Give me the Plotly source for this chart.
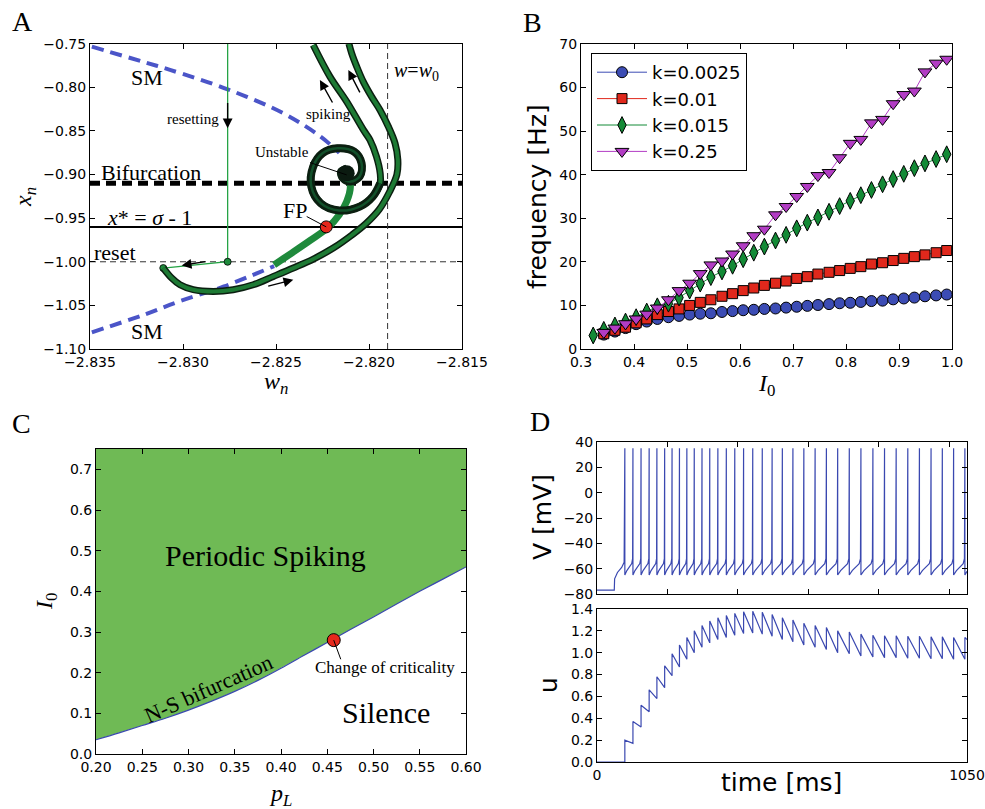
import plotly.graph_objects as go

W, H = 985, 809

# ---------------- Panel A data (w_n, x_n) ----------------
SM_UP_W = [-2.8349, -2.8321, -2.8307, -2.8276, -2.8246, -2.8226, -2.8216]
SM_UP_X = [-0.7534, -0.7710, -0.7800, -0.8023, -0.8298, -0.8565, -0.8752]
SM_LO_W = [-2.8349, -2.8321, -2.8302, -2.8278, -2.8251]
SM_LO_X = [-1.0809, -1.0607, -1.0454, -1.0283, -1.0050]
STAB_W = [-2.8251, -2.8243, -2.8232, -2.8222, -2.8216, -2.8212, -2.8210, -2.8211]
STAB_X = [-1.0035, -0.9920, -0.9760, -0.9607, -0.9462, -0.9309, -0.9138, -0.9030]
OUT_W = [-2.83106, -2.83061, -2.83016, -2.82945, -2.82837, -2.82730, -2.82622, -2.82514,
         -2.82407, -2.82299, -2.82190, -2.82090, -2.82015, -2.81945, -2.81890, -2.81850,
         -2.81845, -2.81860, -2.81896, -2.81941, -2.81986, -2.82031, -2.82066, -2.82093, -2.82108]
OUT_X = [-1.0072, -1.0186, -1.0263, -1.0320, -1.0340, -1.0320, -1.0263, -1.0168,
         -1.0072, -0.9969, -0.9840, -0.9690, -0.9560, -0.9400, -0.9200, -0.9000,
         -0.8830, -0.8641, -0.8450, -0.8260, -0.8107, -0.7935, -0.7763, -0.7611, -0.7500]
SP_W = [-2.8212, -2.8215, -2.8214, -2.8210, -2.8205, -2.8204, -2.8208, -2.8217, -2.8225,
        -2.8230, -2.8231, -2.8226, -2.8216, -2.8205, -2.8198, -2.8194, -2.8194, -2.8196,
        -2.81995, -2.8203, -2.8212, -2.8221, -2.8230]
SP_X = [-0.8930, -0.8966, -0.9042, -0.9080, -0.9023, -0.8870, -0.8737, -0.8699, -0.8756,
        -0.8909, -0.9138, -0.9328, -0.9412, -0.9367, -0.9252, -0.9100, -0.8985, -0.8794,
        -0.8603, -0.8489, -0.8164, -0.7878, -0.7515]
SPIRAL_LEN = 16
RESET_W = [-2.8276, -2.8276, -2.83106]
RESET_X = [-0.7500, -1.0000, -1.0072]
UNSTABLE = (-2.8212, -0.8985)
FP = (-2.8223, -0.9600)
BIFURCATION_X = -0.91
XSTAR = -0.96
RESET_LEVEL = -1.0
W0 = -2.819

# ---------------- Panel B data ----------------
I0 = [0.323, 0.343, 0.364, 0.384, 0.404, 0.424, 0.444, 0.465, 0.485, 0.505, 0.525, 0.545,
      0.566, 0.586, 0.606, 0.626, 0.646, 0.667, 0.687, 0.707, 0.727, 0.747, 0.768, 0.788,
      0.808, 0.828, 0.848, 0.869, 0.889, 0.909, 0.929, 0.949, 0.970, 0.990]
F_0025 = [3.3, 4.0, 4.8, 5.7, 6.3, 6.9, 7.3, 7.6, 7.9, 8.1, 8.2, 8.5, 8.7, 8.9, 9.0, 9.2,
          9.3, 9.5, 9.7, 9.9, 10.1, 10.3, 10.5, 10.6, 10.8, 11.0, 11.1, 11.4, 11.6, 11.8,
          12.1, 12.3, 12.5]
F_01 = [3.5, 4.3, 5.0, 6.0, 6.9, 7.9, 8.6, 9.2, 10.0, 10.7, 11.3, 12.1, 12.7, 13.4, 14.0,
        14.6, 15.1, 15.6, 16.2, 16.6, 17.2, 17.6, 18.0, 18.5, 18.9, 19.5, 19.8, 20.3, 20.8,
        21.2, 21.6, 22.1, 22.6]
F_015 = [3.1, 4.4, 5.4, 6.3, 7.3, 8.6, 9.8, 10.4, 11.8, 13.4, 15.0, 16.5, 17.8, 19.1, 20.6,
         22.1, 23.5, 24.9, 26.2, 27.7, 29.0, 30.2, 31.5, 32.8, 34.0, 35.3, 36.5, 37.8, 39.0,
         40.2, 41.5, 42.6, 43.6, 44.7]
F_25 = [3.8, 4.8, 5.8, 6.9, 8.0, 9.4, 11.3, 13.4, 15.1, 17.3, 19.3, 20.2, 21.8, 23.7, 26.0,
        27.5, 30.8, 32.7, 35.0, 37.3, 39.8, 40.5, 43.9, 47.2, 48.1, 51.9, 52.7, 56.3, 58.4,
        59.2, 63.6, 65.6, 66.5]

# ---------------- Panel C data ----------------
PL = [0.200, 0.225, 0.250, 0.275, 0.300, 0.325, 0.350, 0.375, 0.400, 0.425, 0.450, 0.475,
      0.500, 0.525, 0.550, 0.575, 0.600]
I_NS = [0.035, 0.052, 0.070, 0.088, 0.108, 0.130, 0.154, 0.181, 0.211, 0.243, 0.274, 0.306,
        0.337, 0.369, 0.400, 0.430, 0.460]
CRIT = (0.457, 0.280)
C_YMAX = 0.75

# ---------------- Panel D data ----------------
SPIKE_T = [79, 102, 125, 148, 170, 192, 213, 234, 255, 276, 298, 320, 343, 367, 391, 416,
           442, 469, 497, 526, 556, 587, 619, 651, 683, 716, 749, 783, 816, 849, 882, 915,
           948, 980, 1012, 1044]
U_PEAK = [0.20, 0.37, 0.52, 0.66, 0.78, 0.88, 0.99, 1.07, 1.14, 1.20, 1.25, 1.29, 1.32, 1.34,
          1.36, 1.375, 1.38, 1.37, 1.35, 1.32, 1.30, 1.27, 1.25, 1.23, 1.20, 1.19, 1.17, 1.16,
          1.155, 1.155, 1.15, 1.15, 1.145, 1.145, 1.14, 1.14]
U_TROUGH = [0.17, 0.32, 0.46, 0.58, 0.68, 0.79, 0.87, 0.94, 1.00, 1.05, 1.09, 1.12, 1.14, 1.16,
            1.175, 1.18, 1.17, 1.15, 1.12, 1.10, 1.07, 1.05, 1.03, 1.00, 0.99, 0.97, 0.96,
            0.955, 0.955, 0.95, 0.95, 0.945, 0.945, 0.94, 0.94, 1.12]
V_REST, V_RESET, V_PEAK = -77, -65, 35
PRE_T = [49, 50, 58, 70, 77]
PRE_V = [-77, -68, -63, -59, -55]
ISI_FRAC = [0.0, 0.25, 0.55, 0.85, 0.96]
ISI_V = [-65, -61.5, -58.5, -56, -52]
T_END = 1050

# ---------------- helpers ----------------
def dx(l, r):
    return [l / W, r / W]

def dy(t, b):
    return [1 - b / H, 1 - t / H]

def px(x):
    return x / W

def py(y):
    return 1 - y / H

fig = go.Figure()

GREEN = '#1f8a3c'
CHAIN_IN = '#1d7a34'
DKGREEN = '#12502a'
BLUE_SM = '#4b55c8'

# ---- Panel A ----
fig.add_trace(go.Scatter(x=SM_UP_W, y=SM_UP_X, mode='lines', line=dict(color=BLUE_SM, width=4, dash='12px,7px', shape='spline'), xaxis='x', yaxis='y', showlegend=False))
fig.add_trace(go.Scatter(x=SM_LO_W, y=SM_LO_X, mode='lines', line=dict(color=BLUE_SM, width=4, dash='12px,7px', shape='spline'), xaxis='x', yaxis='y', showlegend=False))
fig.add_trace(go.Scatter(x=STAB_W, y=STAB_X, mode='lines', line=dict(color=GREEN, width=7, shape='spline'), xaxis='x', yaxis='y', showlegend=False))
fig.add_trace(go.Scatter(x=RESET_W, y=RESET_X, mode='lines', line=dict(color='#25a345', width=1.3), xaxis='x', yaxis='y', showlegend=False))
fig.add_trace(go.Scatter(x=RESET_W[1:], y=RESET_X[1:], mode='markers', marker=dict(color=GREEN, size=7, line=dict(color='black', width=0.8)), xaxis='x', yaxis='y', showlegend=False))

def chain(wl, xl, outer=7, inner=4, col=CHAIN_IN):
    fig.add_trace(go.Scatter(x=wl, y=xl, mode='lines', line=dict(color='#0b1f10', width=outer, shape='spline'), xaxis='x', yaxis='y', showlegend=False))
    fig.add_trace(go.Scatter(x=wl, y=xl, mode='lines', line=dict(color=col, width=inner, shape='spline'), xaxis='x', yaxis='y', showlegend=False))

chain(OUT_W, OUT_X)
chain(SP_W, SP_X)
chain(SP_W[:SPIRAL_LEN], SP_X[:SPIRAL_LEN], outer=8, inner=2.5, col=DKGREEN)
fig.add_trace(go.Scatter(x=[UNSTABLE[0]], y=[UNSTABLE[1]], mode='markers', marker=dict(color='#0b1a10', size=16), xaxis='x', yaxis='y', showlegend=False))
fig.add_trace(go.Scatter(x=[FP[0]], y=[FP[1]], mode='markers', marker=dict(color='#e5281c', size=12, line=dict(color='black', width=1)), xaxis='x', yaxis='y', showlegend=False))

# ---- Panel B ----
B_SERIES = [
    ('k=0.0025', I0[1:], F_0025, '#3c4cb4', 'circle', 11),
    ('k=0.01', I0[1:], F_01, '#e0281c', 'square', 10),
    ('k=0.015', I0, F_015, '#138a36', 'diamond-tall', 12),
    ('k=0.25', I0[1:], F_25, '#b23cc4', 'triangle-down', 12),
]
for name, xs, ys, col, sym, sz in B_SERIES:
    fig.add_trace(go.Scatter(x=xs, y=ys, mode='lines+markers', name=name,
                             line=dict(color=col, width=1),
                             marker=dict(symbol=sym, size=sz, color=col, line=dict(color='black', width=1)),
                             xaxis='x2', yaxis='y2', showlegend=True))

# ---- Panel C ----
fig.add_trace(go.Scatter(x=PL + [PL[-1], PL[0]], y=I_NS + [C_YMAX, C_YMAX], mode='lines', fill='toself',
                         fillcolor='#6fba55', line=dict(width=0), xaxis='x3', yaxis='y3', showlegend=False))
fig.add_trace(go.Scatter(x=PL, y=I_NS, mode='lines', line=dict(color='#3a48b0', width=1.2, shape='spline'),
                         xaxis='x3', yaxis='y3', showlegend=False))
fig.add_trace(go.Scatter(x=[CRIT[0]], y=[CRIT[1]], mode='markers', marker=dict(color='#e5281c', size=13, line=dict(color='black', width=1)),
                         xaxis='x3', yaxis='y3', showlegend=False))

# ---- Panel D ----
vt, vv = [0] + PRE_T, [V_REST] + PRE_V
for i, t in enumerate(SPIKE_T):
    vt += [t, t]
    vv += [V_PEAK, V_RESET]
    if i + 1 < len(SPIKE_T):
        isi = SPIKE_T[i + 1] - t
        for f, v in zip(ISI_FRAC[1:], ISI_V[1:]):
            vt.append(t + f * isi)
            vv.append(v)
vt.append(T_END)
vv.append(-62)
fig.add_trace(go.Scatter(x=vt, y=vv, mode='lines', line=dict(color='#3a48b0', width=1.2), xaxis='x4', yaxis='y4', showlegend=False))

ut, uv = [0, SPIKE_T[0]], [0, 0]
for i, t in enumerate(SPIKE_T):
    ut.append(t)
    uv.append(U_PEAK[i])
    nxt = SPIKE_T[i + 1] if i + 1 < len(SPIKE_T) else T_END
    ut.append(nxt)
    uv.append(U_TROUGH[i])
fig.add_trace(go.Scatter(x=ut, y=uv, mode='lines', line=dict(color='#3a48b0', width=1.2), xaxis='x5', yaxis='y5', showlegend=False))

# ---------------- axes ----------------
TF = dict(family='DejaVu Sans', size=14, color='black')
BASE = dict(showline=True, linecolor='black', linewidth=1, mirror='allticks', ticks='inside', ticklen=5,
            tickcolor='black', tickwidth=1, showgrid=False, zeroline=False, tickfont=TF, automargin=False)

fig.update_layout(
    template='none',
    width=W, height=H, margin=dict(l=0, r=0, t=0, b=0, pad=0, autoexpand=False),
    paper_bgcolor='white', plot_bgcolor='white',
    font=dict(family='DejaVu Sans', color='black'),
    xaxis=dict(BASE, domain=dx(90, 462), range=[-2.835, -2.815], dtick=0.005, tick0=-2.835, tickformat='.3f', anchor='y'),
    yaxis=dict(BASE, domain=dy(43.7, 349), range=[-1.10, -0.75], dtick=0.05, tick0=-1.1, tickformat='.2f', anchor='x'),
    xaxis2=dict(BASE, domain=dx(581, 952), range=[0.3, 1.0], dtick=0.1, tick0=0.3, tickformat='.1f', anchor='y2'),
    yaxis2=dict(BASE, domain=dy(44, 349), range=[0, 70], dtick=10, anchor='x2'),
    xaxis3=dict(BASE, domain=dx(96, 466), range=[0.2, 0.6], dtick=0.05, tick0=0.2, tickformat='.2f', anchor='y3'),
    yaxis3=dict(BASE, domain=dy(449, 754), range=[0, C_YMAX], dtick=0.1, tick0=0, tickformat='.1f', anchor='x3'),
    xaxis4=dict(BASE, domain=dx(597, 967), range=[0, T_END], tickvals=[200, 400, 600, 800, 1000], showticklabels=False, anchor='y4'),
    yaxis4=dict(BASE, domain=dy(442, 594), range=[-80, 40], dtick=20, anchor='x4'),
    xaxis5=dict(BASE, domain=dx(597, 967), range=[0, T_END], tickvals=[0, T_END], ticktext=['0', '1050'], ticks='', anchor='y5'),
    yaxis5=dict(BASE, domain=dy(609, 762), range=[0, 1.4], dtick=0.2, tick0=0, tickformat='.1f', anchor='x5'),
    legend=dict(x=px(591), y=py(53), xanchor='left', yanchor='top', bordercolor='black', borderwidth=1,
                bgcolor='white', font=dict(family='DejaVu Sans', size=18, color='black'), itemwidth=50,
                tracegroupgap=0),
)

# ---------------- shapes ----------------
shapes = [
    dict(type='line', xref='x domain', yref='y', x0=0, x1=1, y0=BIFURCATION_X, y1=BIFURCATION_X, line=dict(color='black', width=5, dash='10px,6px'), layer='below'),
    dict(type='line', xref='x domain', yref='y', x0=0, x1=1, y0=XSTAR, y1=XSTAR, line=dict(color='black', width=2), layer='below'),
    dict(type='line', xref='x domain', yref='y', x0=0, x1=1, y0=RESET_LEVEL, y1=RESET_LEVEL, line=dict(color='#333', width=1, dash='6px,4px'), layer='below'),
    dict(type='line', xref='x', yref='y domain', x0=W0, x1=W0, y0=0, y1=1, line=dict(color='#333', width=1, dash='6px,4px'), layer='below'),
    dict(type='line', xref='x', yref='y', x0=-2.82317, y0=-0.8863, x1=UNSTABLE[0], y1=-0.9004, line=dict(color='black', width=1)),
    dict(type='line', xref='x', yref='y', x0=-2.82335, y0=-0.9481, x1=FP[0], y1=FP[1], line=dict(color='black', width=1)),
    dict(type='line', xref='x3', yref='y3', x0=CRIT[0], y0=CRIT[1], x1=0.4646, y1=0.233, line=dict(color='black', width=1)),
]
fig.update_layout(shapes=shapes)

# ---------------- annotations ----------------
SERIF = 'Liberation Serif'
ann = []

def txt(x, y, s, size, xref='paper', yref='paper', family=SERIF, angle=0, xanchor='center'):
    ann.append(dict(x=x, y=y, xref=xref, yref=yref, text=s, showarrow=False, textangle=angle,
                    font=dict(family=family, size=size, color='black'), xanchor=xanchor, yanchor='middle'))

def arrow(hx, hy, tx, ty, xr='x', yr='y'):
    ann.append(dict(x=hx, y=hy, ax=tx, ay=ty, xref=xr, yref=yr, axref=xr, ayref=yr, text='', showarrow=True,
                    arrowhead=2, arrowsize=1.4, arrowwidth=1.4, arrowcolor='black', standoff=0))

# panel letters
txt(px(22), py(22), 'A', 28)
txt(px(532), py(23), 'B', 28)
txt(px(21), py(423), 'C', 28)
txt(px(540), py(421), 'D', 28)

# panel A texts
txt(-2.83195, -0.7886, 'SM', 22, 'x', 'y')
txt(-2.83195, -1.0798, 'SM', 22, 'x', 'y')
txt(-2.82944, -0.8363, 'resetting', 15, 'x', 'y')
txt(-2.8222, -0.8305, 'spiking', 15, 'x', 'y')
txt(-2.8247, -0.8737, 'Unstable', 15, 'x', 'y')
txt(-2.83174, -0.8973, 'Bifurcation', 22, 'x', 'y')
txt(-2.83181, -0.9489, '<i>x</i>* = <i>σ</i> - 1', 22, 'x', 'y')
txt(-2.83366, -0.9889, 'reset', 22, 'x', 'y')
txt(-2.8240, -0.9412, 'FP', 22, 'x', 'y')
txt(-2.81747, -0.7813, '<i>w</i>=<i>w</i><sub>0</sub>', 20, 'x', 'y')
arrow(-2.8276, -0.847, -2.8276, -0.8164)
arrow(-2.83007, -1.0042, -2.82873, -0.9996)
arrow(-2.82407, -1.0206, -2.82550, -1.0283)
arrow(-2.82264, -0.7916, -2.82192, -0.8191)
arrow(-2.82111, -0.7802, -2.82045, -0.8076)

# axis titles
txt(px(276), py(383), '<i>w</i><sub><i>n</i></sub>', 24)
txt(px(25), py(197), '<i>x</i><sub><i>n</i></sub>', 24, angle=-90)
txt(px(537), py(197), 'frequency [Hz]', 25, family='DejaVu Sans', angle=-90)
txt(px(766), py(385), '<i>I</i><sub>0</sub>', 24)
txt(px(46), py(602), '<i>I</i><sub>0</sub>', 24, angle=-90)
txt(px(280), py(795), '<i>p</i><sub><i>L</i></sub>', 24)
txt(px(542), py(517), 'V [mV]', 25, family='DejaVu Sans', angle=-90)
txt(px(548), py(685), 'u', 25, family='DejaVu Sans', angle=-90)
txt(px(781), py(782), 'time [ms]', 25, family='DejaVu Sans')

# panel C texts
txt(0.383, 0.489, 'Periodic Spiking', 30, 'x3', 'y3')
txt(0.514, 0.102, 'Silence', 30, 'x3', 'y3')
txt(0.322, 0.160, 'N-S bifurcation', 22, 'x3', 'y3', angle=-24)
txt(0.5125, 0.213, 'Change of criticality', 17, 'x3', 'y3')

fig.update_layout(annotations=ann)

fig.write_html("out.html", config={'displayModeBar': False},
               post_script="document.body.style.margin='0';document.body.style.overflow='hidden';")
